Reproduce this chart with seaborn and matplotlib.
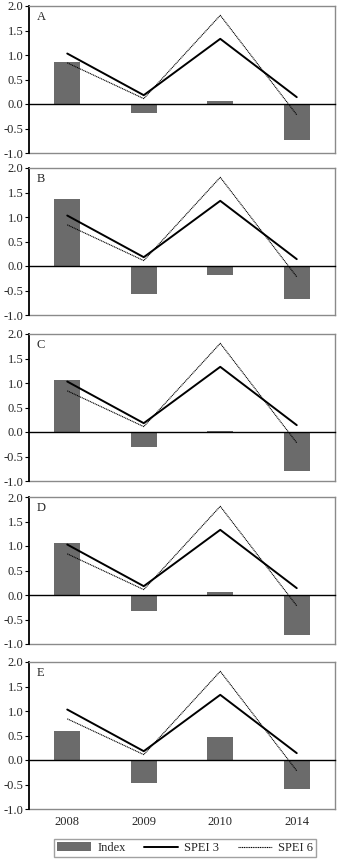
import numpy as np
import pandas as pd
import matplotlib
matplotlib.use("Agg")
import matplotlib.pyplot as plt
import seaborn as sns
from matplotlib.patches import Patch
from matplotlib.lines import Line2D

sns.set_style("white")
plt.rcParams['font.family'] = ['Liberation Serif', 'DejaVu Serif']
plt.rcParams['axes.unicode_minus'] = False

# data
years = ['2008', '2009', '2010', '2014']
panels = ['A', 'B', 'C', 'D', 'E']
index_a = [0.85, -0.19, 0.06, -0.74]
index_b = [1.37, -0.57, -0.18, -0.67]
index_c = [1.07, -0.31, 0.03, -0.79]
index_d = [1.06, -0.32, 0.06, -0.81]
index_e = [0.60, -0.47, 0.47, -0.59]
spei3 = [1.03, 0.18, 1.33, 0.14]
spei6 = [0.84, 0.11, 1.81, -0.22]

index_all = [index_a, index_b, index_c, index_d, index_e]

bar_col = '#6b6b6b'
frame_col = '#8a8a8a'
dot_style = (0, (1, 0.6))
fs = 9

W, H = 342, 859
fig = plt.figure(figsize=(W / 100, H / 100), dpi=100)

tops = [6, 168, 334, 497, 662]
ax_h = 147
left, ax_w = 29, 306

x_pos = np.arange(len(years))

for i, (lab, vals) in enumerate(zip(panels, index_all)):
    ax = fig.add_axes([left / W, 1 - (tops[i] + ax_h) / H, ax_w / W, ax_h / H])
    df = pd.DataFrame({'year': years, 'value': vals})
    sns.barplot(data=df, x='year', y='value', color=bar_col, width=0.34,
                saturation=1, ax=ax, edgecolor='none')
    sns.lineplot(x=x_pos, y=spei3, color='black', lw=1.4, ax=ax)
    sns.lineplot(x=x_pos, y=spei6, color='black', lw=0.8, ax=ax,
                 linestyle=dot_style)

    ax.set_xlim(-0.5, len(years) - 0.5)
    ax.set_ylim(-1.0, 2.0)
    ax.set_yticks(np.arange(-1.0, 2.01, 0.5))
    ax.set_yticklabels([f'{v:.1f}' for v in np.arange(-1.0, 2.01, 0.5)])
    ax.set_xlabel('')
    ax.set_ylabel('')

    # category axis crossing at zero with ticks between categories
    ax.spines['bottom'].set_position(('data', 0))
    ax.spines['bottom'].set_color('black')
    ax.spines['bottom'].set_linewidth(1.0)
    ax.set_xticks(np.arange(-0.5, len(years), 1.0))
    ax.set_xticklabels([])
    ax.tick_params(axis='x', direction='out', length=3, width=0.8, color='black')
    ax.tick_params(axis='y', direction='out', length=3, width=0.8, color='black',
                   labelsize=fs, pad=1, left=True)
    ax.spines['left'].set_color('black')
    ax.spines['left'].set_linewidth(1.3)
    for s in ['top', 'right']:
        ax.spines[s].set_color(frame_col)
        ax.spines[s].set_linewidth(1.0)

    sec = ax.secondary_xaxis(0.0)
    sec.set_xticks(x_pos)
    sec.set_xticklabels(years if i == len(panels) - 1 else [])
    sec.tick_params(length=0, labelsize=fs, pad=5)
    sec.spines['bottom'].set_color(frame_col)
    sec.spines['bottom'].set_linewidth(1.0)

    ax.text(0.026, 0.925, lab, transform=ax.transAxes, fontsize=fs,
            ha='left', va='center')

handles = [Patch(facecolor=bar_col, edgecolor='none'),
           Line2D([], [], color='black', lw=1.4),
           Line2D([], [], color='black', lw=0.8, linestyle=dot_style)]
leg = fig.legend(handles, ['Index', 'SPEI 3', 'SPEI 6'], ncol=3,
                 loc='center', bbox_to_anchor=(185 / W, 1 - 848 / H),
                 fontsize=fs, frameon=True, fancybox=False, borderpad=0.25,
                 handlelength=2.7, handletextpad=0.5, columnspacing=1.5)
leg.get_frame().set_edgecolor(frame_col)
leg.get_frame().set_linewidth(1.0)

fig.savefig('out.png', dpi=100)
